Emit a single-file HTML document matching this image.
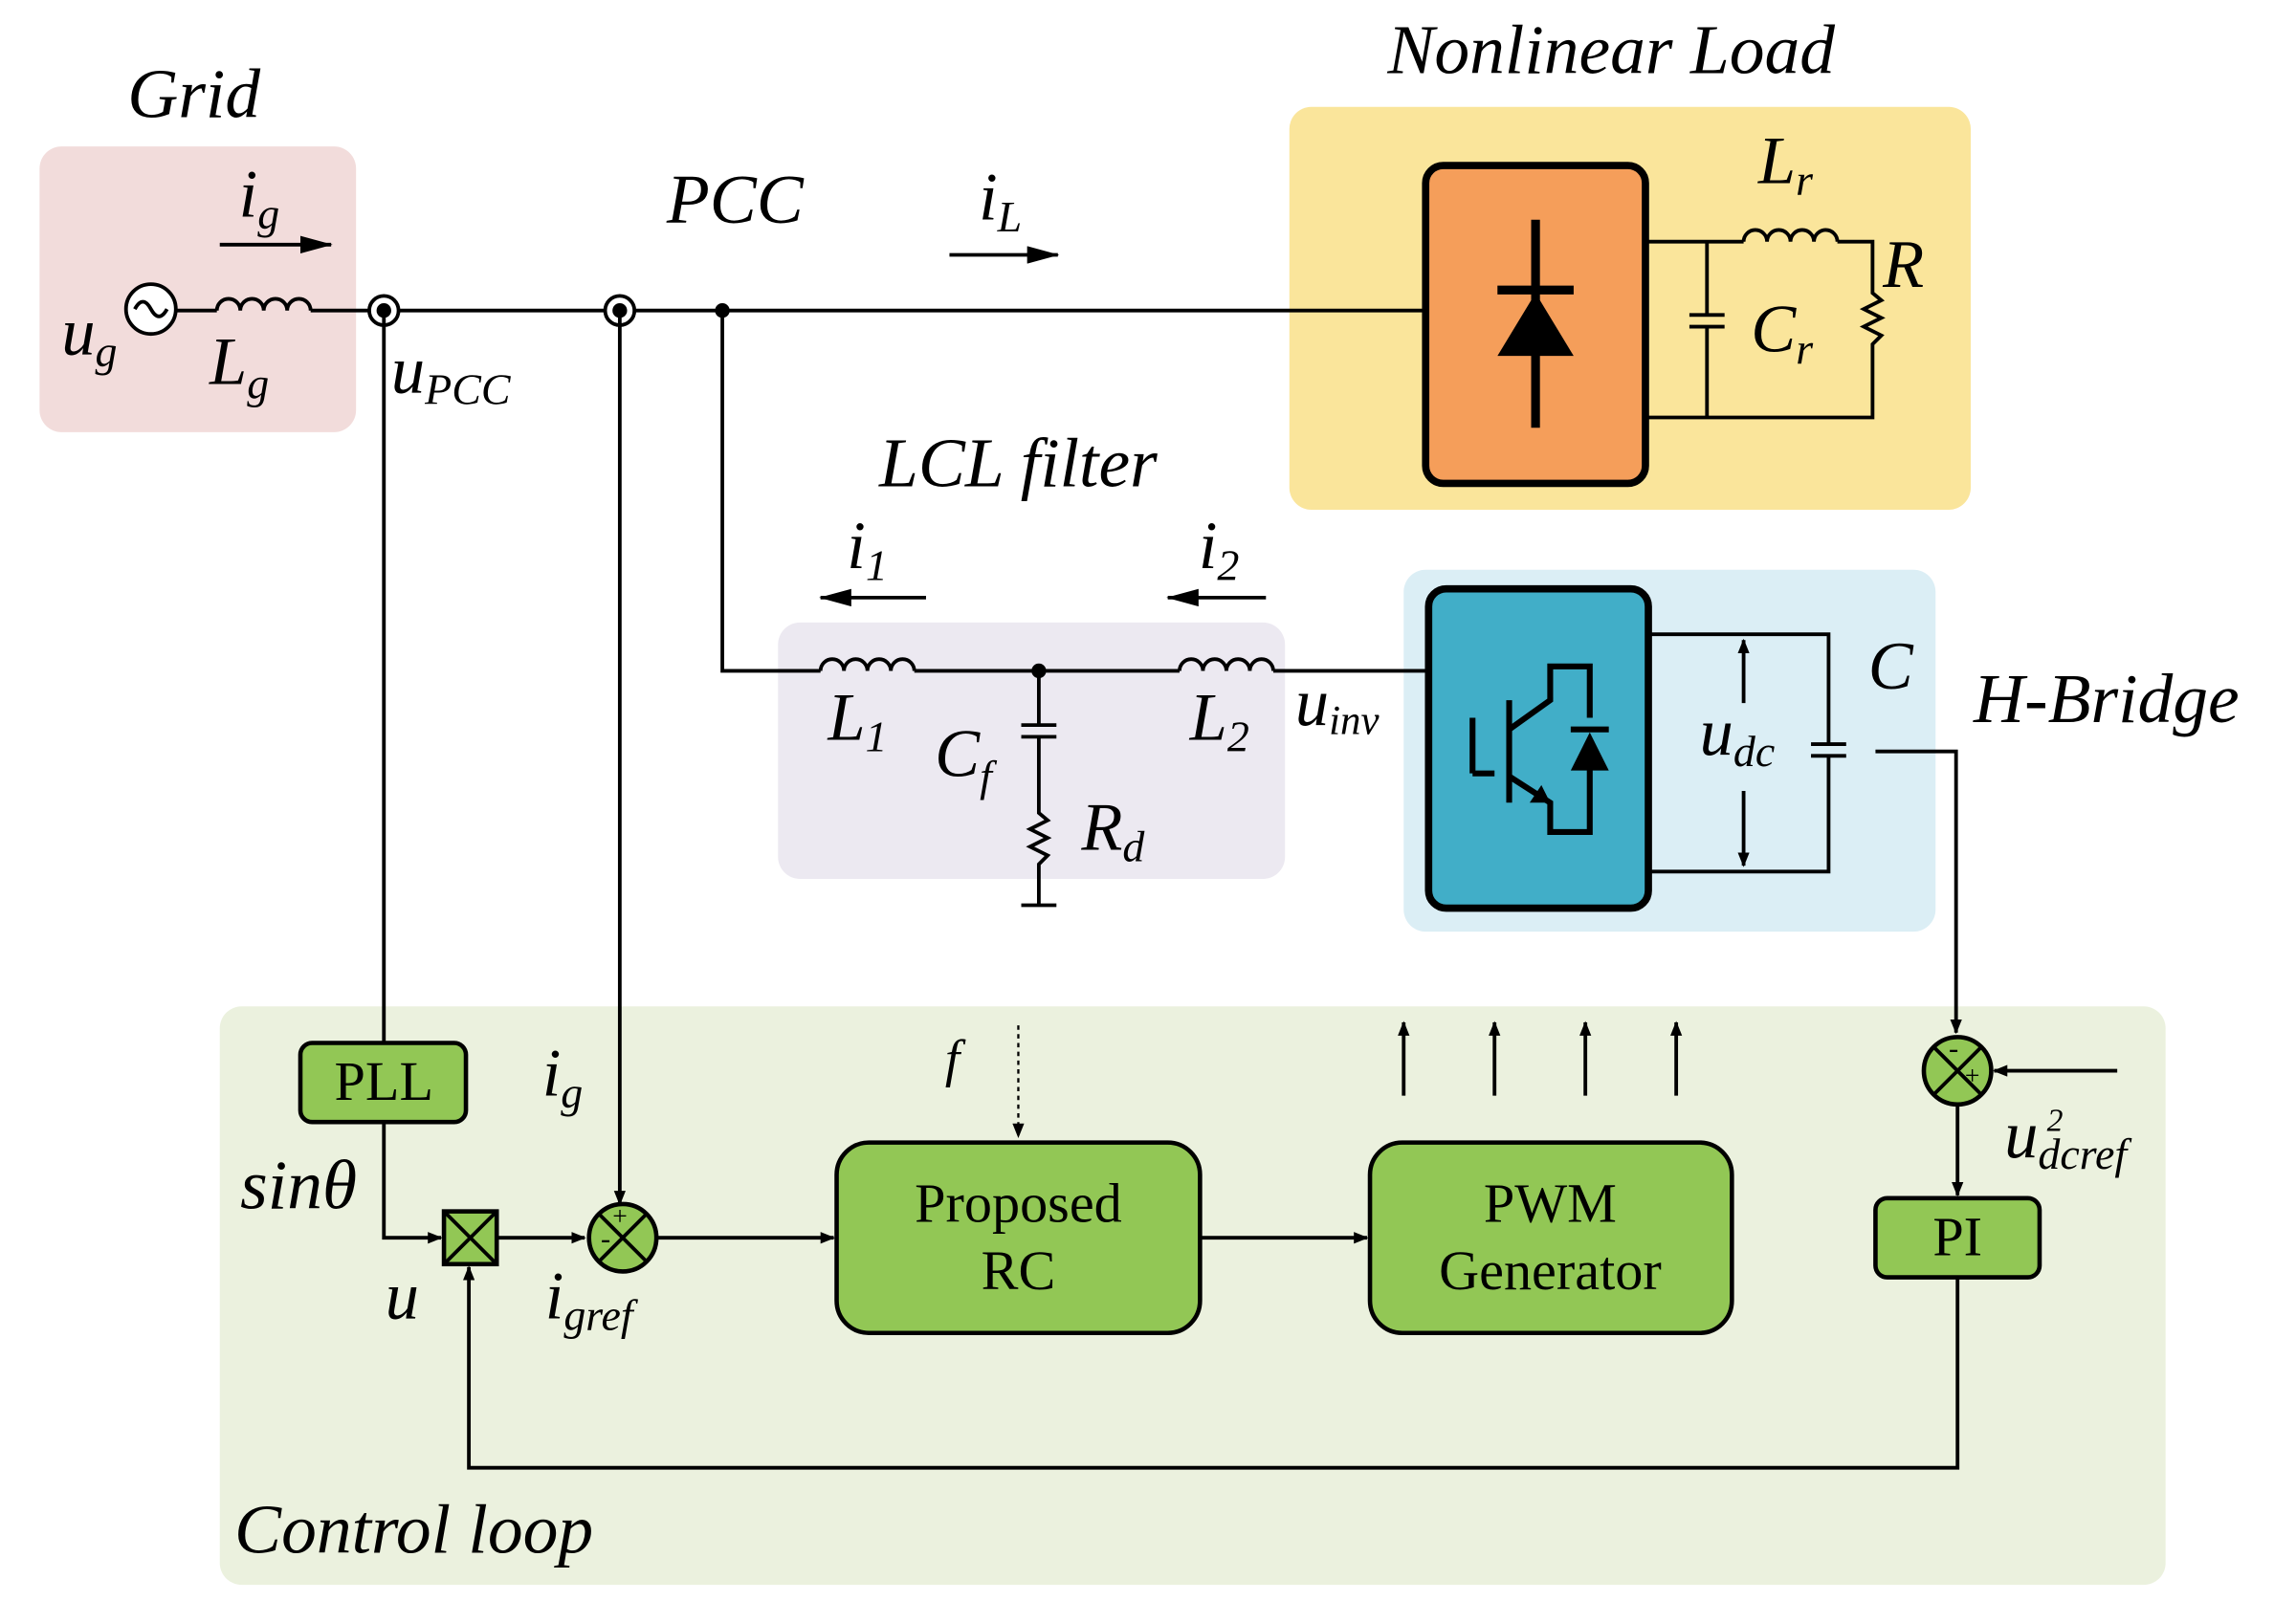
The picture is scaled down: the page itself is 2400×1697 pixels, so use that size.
<!DOCTYPE html>
<html><head><meta charset="utf-8"><style>
html,body{margin:0;padding:0;background:#fff}
svg{display:block}
text{font-family:"Liberation Serif",serif;fill:#000}
.it{font-style:italic}
</style></head><body>
<svg width="2400" height="1697" viewBox="0 0 1567 1108" preserveAspectRatio="none" xmlns="http://www.w3.org/2000/svg">
<defs>
<marker id="a" markerWidth="10" markerHeight="8" refX="9" refY="4" orient="auto" markerUnits="userSpaceOnUse"><path d="M0,0L10,4L0,8z" fill="#000"/></marker>
<marker id="b" markerWidth="22" markerHeight="12" refX="21" refY="6" orient="auto" markerUnits="userSpaceOnUse"><path d="M0,0L22,6L0,12z" fill="#000"/></marker>
</defs>
<rect x="27" y="100" width="216" height="195" rx="15" fill="#f2dcdb"/>
<rect x="880" y="73" width="465" height="275" rx="15" fill="#fae59b"/>
<rect x="531" y="425" width="346" height="175" rx="15" fill="#ece9f1"/>
<rect x="958" y="389" width="363" height="247" rx="15" fill="#dbeef5"/>
<rect x="150" y="687" width="1328" height="395" rx="15" fill="#ebf1de"/>
<g stroke="#000" stroke-width="2.5" fill="none">
<line x1="120" y1="212" x2="148" y2="212"/>
<path d="M148,212 a8,8 0 0 1 16,0 a8,8 0 0 1 16,0 a8,8 0 0 1 16,0 a8,8 0 0 1 16,0"/>
<line x1="212" y1="212" x2="973" y2="212"/>
<circle cx="103" cy="211" r="17" fill="#fff"/>
<path d="M92,211 q5.5,-10 11,0 q5.5,10 11,0"/>
<circle cx="262" cy="212" r="10" fill="#fff"/>
<circle cx="423" cy="212" r="10" fill="#fff"/>
<line x1="262" y1="212" x2="262" y2="712"/>
<line x1="423" y1="212" x2="423" y2="822" marker-end="url(#a)"/>
<polyline points="493,212 493,458 560,458"/>
<path d="M560,458 a8,8 0 0 1 16,0 a8,8 0 0 1 16,0 a8,8 0 0 1 16,0 a8,8 0 0 1 16,0"/>
<line x1="624" y1="458" x2="805" y2="458"/>
<path d="M805,458 a8,8 0 0 1 16,0 a8,8 0 0 1 16,0 a8,8 0 0 1 16,0 a8,8 0 0 1 16,0"/>
<line x1="869" y1="458" x2="975" y2="458"/>
<line x1="709" y1="458" x2="709" y2="495"/>
<line x1="697" y1="495" x2="721" y2="495"/><line x1="697" y1="503" x2="721" y2="503"/>
<polyline points="709,503 709,555 715,560 703,566 715,572 703,578 715,584 709,590 709,618"/>
<line x1="697" y1="618" x2="721" y2="618"/>
<polyline points="1123,165 1190,165"/>
<path d="M1190,165 a8,8 0 0 1 16,0 a8,8 0 0 1 16,0 a8,8 0 0 1 16,0 a8,8 0 0 1 16,0"/>
<polyline points="1254,165 1278,165 1278,200 1284,205 1272,211 1284,217 1272,223 1284,229 1278,235 1278,285 1123,285"/>
<line x1="1165" y1="165" x2="1165" y2="215"/><line x1="1165" y1="223" x2="1165" y2="285"/>
<line x1="1153" y1="215" x2="1177" y2="215"/><line x1="1153" y1="223" x2="1177" y2="223"/>
<polyline points="1125,433 1248,433 1248,508"/>
<polyline points="1125,595 1248,595 1248,516"/>
<line x1="1236" y1="508" x2="1260" y2="508"/><line x1="1236" y1="516" x2="1260" y2="516"/>
<line x1="1190" y1="480" x2="1190" y2="437" marker-end="url(#a)"/>
<line x1="1190" y1="540" x2="1190" y2="591" marker-end="url(#a)"/>
<polyline points="1280,513 1335,513 1335,705" marker-end="url(#a)"/>
<line x1="1445" y1="731" x2="1361" y2="731" marker-end="url(#a)"/>
<line x1="1336" y1="754" x2="1336" y2="816" marker-end="url(#a)"/>
<polyline points="1336,872 1336,1002 320,1002 320,865" marker-end="url(#a)"/>
<polyline points="262,766 262,845 301,845" marker-end="url(#a)"/>
<line x1="339" y1="845" x2="399" y2="845" marker-end="url(#a)"/>
<line x1="448" y1="845" x2="569" y2="845" marker-end="url(#a)"/>
<line x1="819" y1="845" x2="933" y2="845" marker-end="url(#a)"/>
<line x1="958" y1="748" x2="958" y2="698" marker-end="url(#a)"/>
<line x1="1020" y1="748" x2="1020" y2="698" marker-end="url(#a)"/>
<line x1="1082" y1="748" x2="1082" y2="698" marker-end="url(#a)"/>
<line x1="1144" y1="748" x2="1144" y2="698" marker-end="url(#a)"/>
<line x1="695" y1="700" x2="695" y2="776" stroke-dasharray="3,3" stroke-width="1.5" marker-end="url(#a)"/>
<line x1="150" y1="167" x2="226" y2="167" marker-end="url(#b)"/>
<line x1="648" y1="174" x2="722" y2="174" marker-end="url(#b)"/>
<line x1="632" y1="408" x2="560" y2="408" marker-end="url(#b)"/>
<line x1="864" y1="408" x2="797" y2="408" marker-end="url(#b)"/>
</g>
<circle cx="262" cy="212" r="5" fill="#000"/>
<circle cx="423" cy="212" r="5" fill="#000"/>
<circle cx="493" cy="212" r="5" fill="#000"/>
<circle cx="709" cy="458" r="5" fill="#000"/>
<rect x="973" y="113" width="150" height="217" rx="12" fill="#f59e5a" stroke="#000" stroke-width="5"/>
<line x1="1048" y1="150" x2="1048" y2="292" stroke="#000" stroke-width="6"/>
<line x1="1022" y1="198" x2="1074" y2="198" stroke="#000" stroke-width="6"/>
<path d="M1022,243 L1074,243 L1048,200 z" fill="#000"/>
<rect x="975" y="402" width="150" height="218" rx="12" fill="#41aec8" stroke="#000" stroke-width="5"/>
<g stroke="#000" stroke-width="4" fill="none">
<line x1="1005" y1="490" x2="1005" y2="528"/>
<polyline points="1005,528 1020,528"/>
<line x1="1030" y1="478" x2="1030" y2="548"/>
<polyline points="1030,498 1058,478 1058,455 1085,455 1085,490"/>
<polyline points="1030,530 1058,548 1058,568 1085,568 1085,515"/>
<line x1="1072" y1="498" x2="1098" y2="498"/>
</g>
<path d="M1072,526 L1098,526 L1085,500 z" fill="#000"/>
<path d="M1058,548 L1044,548 L1052,536 z" fill="#000"/>
<g fill="#92c755" stroke="#000" stroke-width="3">
<rect x="205" y="712" width="113" height="54" rx="8"/>
<rect x="571" y="780" width="248" height="130" rx="22"/>
<rect x="935" y="780" width="247" height="130" rx="22"/>
<rect x="1280" y="818" width="112" height="54" rx="8"/>
<rect x="303" y="827" width="36" height="36"/>
<circle cx="425" cy="845" r="23"/>
<circle cx="1336" cy="731" r="23"/>
</g>
<g stroke="#000" stroke-width="2.5">
<line x1="303" y1="827" x2="339" y2="863"/><line x1="339" y1="827" x2="303" y2="863"/>
<line x1="409" y1="829" x2="441" y2="861"/><line x1="441" y1="829" x2="409" y2="861"/>
<line x1="1320" y1="715" x2="1352" y2="747"/><line x1="1352" y1="715" x2="1320" y2="747"/>
</g>
<text x="410" y="852" font-size="20">-</text><text x="418" y="836" font-size="18">+</text>
<text x="1330" y="722" font-size="20">-</text><text x="1341" y="740" font-size="18">+</text>
<g font-size="38" text-anchor="middle">
<text x="262" y="751">PLL</text>
<text x="695" y="834">Proposed</text><text x="695" y="880">RC</text>
<text x="1058" y="834">PWM</text><text x="1058" y="880">Generator</text>
<text x="1336" y="857">PI</text>
</g>
<g class="it" font-size="48">
<text x="87" y="80">Grid</text>
<text x="947" y="50">Nonlinear Load</text>
<text x="455" y="152">PCC</text>
<text x="600" y="332">LCL filter</text>
<text x="1347" y="493">H-Bridge</text>
<text x="160" y="1060">Control loop</text>
<text x="164" y="825">sinθ</text>
</g>
<g class="it" font-size="46">
<text x="163" y="148">i<tspan font-size="30" dy="8">g</tspan></text>
<text x="42" y="242">u<tspan font-size="30" dy="8">g</tspan></text>
<text x="143" y="262">L<tspan font-size="30" dy="10">g</tspan></text>
<text x="267" y="268">u<tspan font-size="30" dy="8">PCC</tspan></text>
<text x="668" y="150">i<tspan font-size="30" dy="8">L</tspan></text>
<text x="1200" y="125">L<tspan font-size="30" dy="8">r</tspan></text>
<text x="1285" y="196">R</text>
<text x="1195" y="240">C<tspan font-size="30" dy="8">r</tspan></text>
<text x="578" y="388">i<tspan font-size="30" dy="8">1</tspan></text>
<text x="818" y="388">i<tspan font-size="30" dy="8">2</tspan></text>
<text x="565" y="505">L<tspan font-size="30" dy="8">1</tspan></text>
<text x="812" y="505">L<tspan font-size="30" dy="8">2</tspan></text>
<text x="638" y="530">C<tspan font-size="30" dy="10">f</tspan></text>
<text x="738" y="580">R<tspan font-size="30" dy="8">d</tspan></text>
<text x="884" y="495">u<tspan font-size="28" dy="6">inv</tspan></text>
<text x="1160" y="515">u<tspan font-size="30" dy="8">dc</tspan></text>
<text x="1275" y="470">C</text>
<text x="370" y="748">i<tspan font-size="30" dy="8">g</tspan></text>
<text x="372" y="900">i<tspan font-size="30" dy="8">gref</tspan></text>
<text x="263" y="900">u</text>
<text x="1368" y="790">u<tspan font-size="30" dy="8">dcref</tspan></text>
<text x="645" y="735" font-size="36">f</text>
</g>
<text x="1397" y="772" font-size="22" font-style="italic">2</text>
</svg>
</body></html>
